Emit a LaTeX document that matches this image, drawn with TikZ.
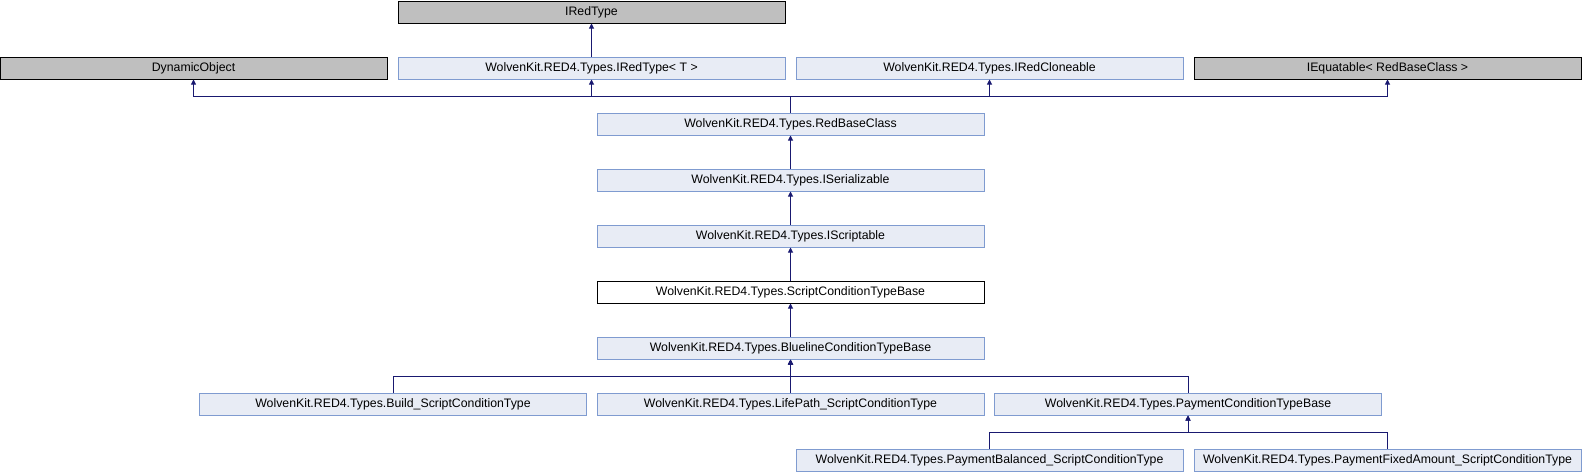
\documentclass[tikz,border=0pt]{standalone}
\usepackage{fontspec}
\setmainfont{Liberation Sans}
\usetikzlibrary{arrows.meta}
\definecolor{boxfill}{HTML}{E8ECF5}
\definecolor{boxline}{HTML}{7F9BD0}
\definecolor{extfill}{HTML}{BFBFBF}
\definecolor{edgecol}{HTML}{191970}
\tikzset{
  cls/.style={minimum width=387pt, minimum height=22pt, inner sep=0pt, line width=1pt,
    font=\fontsize{12.3pt}{14pt}\selectfont},
  doc/.style={cls, draw=boxline, fill=boxfill},
  ext/.style={cls, draw=black, fill=extfill},
  cur/.style={cls, draw=black, fill=white},
  edge/.style={draw=edgecol, line width=0.9pt, -{Triangle[length=5pt,width=5pt]}}
}
\begin{document}
\begin{tikzpicture}[x=1pt,y=1pt]
\useasboundingbox (0,0) rectangle (1582,-472);
\node[ext] (iredtype) at (591.5,-12) {IRedType};
\node[ext] (dyn) at (193.5,-68) {DynamicObject};
\node[doc] (iredtypet) at (591.5,-68) {WolvenKit.RED4.Types.IRedType< T >};
\node[doc] (clone) at (989.5,-68) {WolvenKit.RED4.Types.IRedCloneable};
\node[ext] (equat) at (1387.5,-68) {IEquatable< RedBaseClass >};
\node[doc] (rbc) at (790.5,-124) {WolvenKit.RED4.Types.RedBaseClass};
\node[doc] (iser) at (790.5,-180) {WolvenKit.RED4.Types.ISerializable};
\node[doc] (iscr) at (790.5,-236) {WolvenKit.RED4.Types.IScriptable};
\node[cur] (sct) at (790.5,-292) {WolvenKit.RED4.Types.ScriptConditionTypeBase};
\node[doc] (blue) at (790.5,-348) {WolvenKit.RED4.Types.BluelineConditionTypeBase};
\node[doc] (build) at (393,-404) {WolvenKit.RED4.Types.Build\_ScriptConditionType};
\node[doc] (life) at (790.5,-404) {WolvenKit.RED4.Types.LifePath\_ScriptConditionType};
\node[doc] (pay) at (1188,-404) {WolvenKit.RED4.Types.PaymentConditionTypeBase};
\node[doc] (payb) at (989.5,-460) {WolvenKit.RED4.Types.PaymentBalanced\_ScriptConditionType};
\node[doc] (payf) at (1387.5,-460) {WolvenKit.RED4.Types.PaymentFixedAmount\_ScriptConditionType};
\coordinate (busA) at (0,-96);
\coordinate (busB) at (0,-376);
\coordinate (busC) at (0,-432);
\draw[edge] (iredtypet.north) -- (iredtype.south);
\draw[edge] (rbc.north) -- (rbc.north |- busA) -| (dyn.south);
\draw[edge] (rbc.north) -- (rbc.north |- busA) -| (iredtypet.south);
\draw[edge] (rbc.north) -- (rbc.north |- busA) -| (clone.south);
\draw[edge] (rbc.north) -- (rbc.north |- busA) -| (equat.south);
\draw[edge] (iser.north) -- (rbc.south);
\draw[edge] (iscr.north) -- (iser.south);
\draw[edge] (sct.north) -- (iscr.south);
\draw[edge] (blue.north) -- (sct.south);
\draw[edge] (build.north) -- (build.north |- busB) -| (blue.south);
\draw[edge] (life.north) -- (blue.south);
\draw[edge] (pay.north) -- (pay.north |- busB) -| (blue.south);
\draw[edge] (payb.north) -- (payb.north |- busC) -| (pay.south);
\draw[edge] (payf.north) -- (payf.north |- busC) -| (pay.south);
\end{tikzpicture}
\end{document}
